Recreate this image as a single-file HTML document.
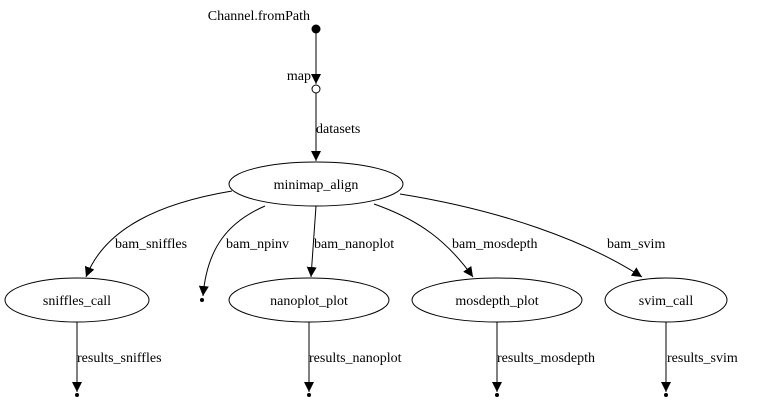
<!DOCTYPE html>
<html><head><meta charset="utf-8"><style>
html,body{margin:0;padding:0;background:#fff;}
svg{display:block;}
text{font-family:"Liberation Serif",serif;font-size:14px;fill:#000;}
</style></head><body>
<svg width="765" height="404" viewBox="0 0 765 404" xmlns="http://www.w3.org/2000/svg">
<defs>
<marker id="a" viewBox="0 0 10 10" refX="10" refY="5" markerWidth="10" markerHeight="10" markerUnits="userSpaceOnUse" orient="auto">
<path d="M0,0 L10,5 L0,10 z" fill="#000"/>
</marker>
</defs>
<g fill="none" stroke="#000" stroke-width="1">
<line x1="316" y1="33" x2="316" y2="84" marker-end="url(#a)"/>
<line x1="316" y1="93" x2="316" y2="161" marker-end="url(#a)"/>
<path d="M232,191 C160,203 105,228 86,277" marker-end="url(#a)"/>
<path d="M265,206 C228,222 207,248 203,296" marker-end="url(#a)"/>
<path d="M316,206 L311,277" marker-end="url(#a)"/>
<path d="M374,204 C420,220 448,242 473,277" marker-end="url(#a)"/>
<path d="M400,194 C500,210 585,240 642,277" marker-end="url(#a)"/>
<line x1="77" y1="322" x2="77" y2="392" marker-end="url(#a)"/>
<line x1="309" y1="322" x2="309" y2="392" marker-end="url(#a)"/>
<line x1="497" y1="322" x2="497" y2="392" marker-end="url(#a)"/>
<line x1="666" y1="322" x2="666" y2="392" marker-end="url(#a)"/>
<ellipse cx="316" cy="184" rx="87" ry="22"/>
<ellipse cx="77" cy="300" rx="72" ry="22"/>
<ellipse cx="309" cy="300" rx="80" ry="22"/>
<ellipse cx="497" cy="300" rx="85" ry="22"/>
<ellipse cx="666" cy="300" rx="61" ry="22"/>
<circle cx="316" cy="89" r="4" fill="#fff"/>
</g>
<circle cx="316" cy="29" r="4.5" fill="#000"/>
<circle cx="202" cy="300" r="2" fill="#000"/>
<circle cx="77" cy="395" r="2" fill="#000"/>
<circle cx="309" cy="395" r="2" fill="#000"/>
<circle cx="497" cy="395" r="2" fill="#000"/>
<circle cx="666" cy="395" r="2" fill="#000"/>
<text x="310" y="20" text-anchor="end">Channel.fromPath</text>
<text x="311" y="80" text-anchor="end">map</text>
<text x="316" y="133">datasets</text>
<text x="316" y="189" text-anchor="middle">minimap_align</text>
<text x="77" y="305" text-anchor="middle">sniffles_call</text>
<text x="309" y="305" text-anchor="middle">nanoplot_plot</text>
<text x="497" y="305" text-anchor="middle">mosdepth_plot</text>
<text x="666" y="305" text-anchor="middle">svim_call</text>
<text x="115" y="248">bam_sniffles</text>
<text x="226" y="248">bam_npinv</text>
<text x="314" y="248">bam_nanoplot</text>
<text x="452" y="248">bam_mosdepth</text>
<text x="607" y="248">bam_svim</text>
<text x="77" y="362">results_sniffles</text>
<text x="309" y="362">results_nanoplot</text>
<text x="497" y="362">results_mosdepth</text>
<text x="667" y="362">results_svim</text>
</svg>
</body></html>
